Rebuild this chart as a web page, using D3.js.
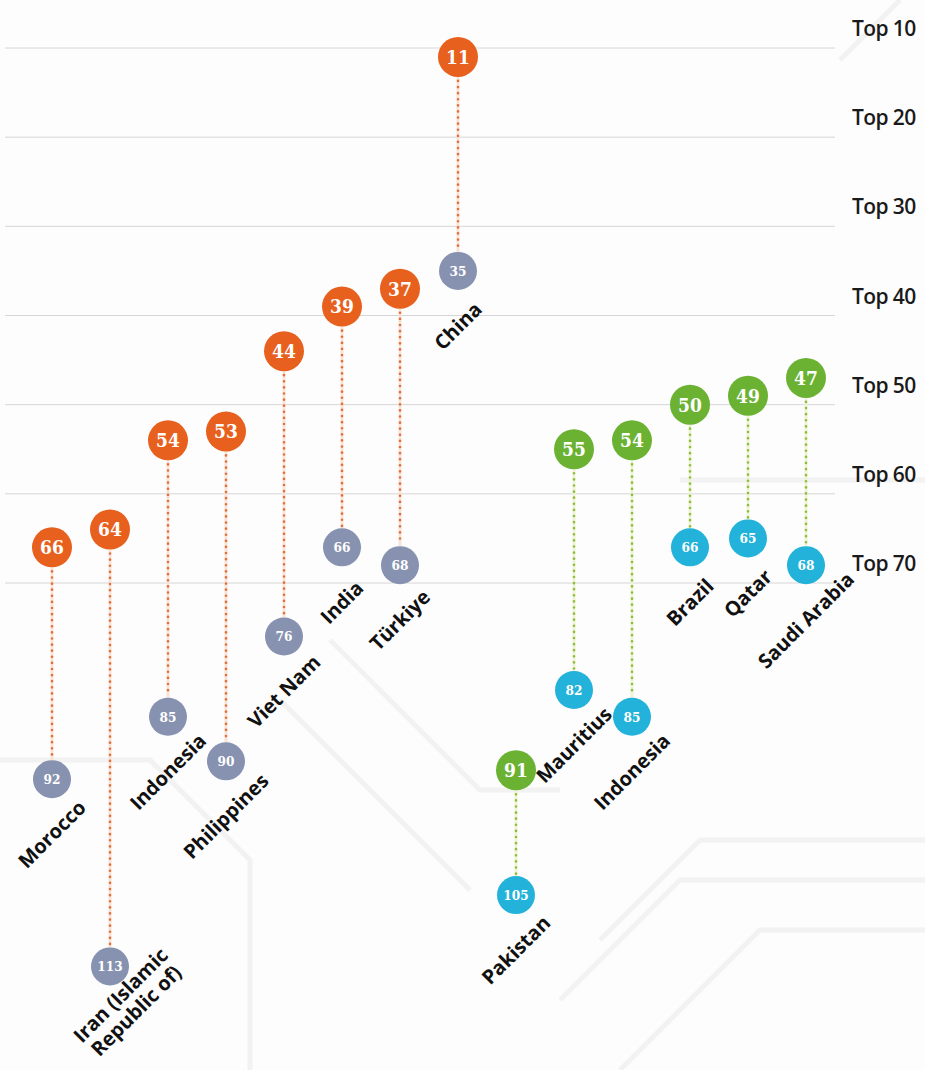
<!DOCTYPE html>
<html>
<head>
<meta charset="utf-8">
<script src="https://cdn.jsdelivr.net/npm/d3@7"></script>
<style>
  html, body { margin: 0; padding: 0; background: #fdfdfd; }
  .num { font-family: "DejaVu Serif", serif; font-weight: bold; font-stretch: condensed; fill: #fff; }
  .country { font-family: "Open Sans", sans-serif; font-weight: 700; fill: #111; }
  .tier { font-family: "Open Sans", sans-serif; font-weight: 600; fill: #1a1a1a; letter-spacing: -0.6px; }
</style>
</head>
<body>
<svg id="chart" width="925" height="1070"></svg>
<script>
// countries, left (orange/grey) and right (green/cyan) groups
const leftCountries = ['Morocco', 'Iran (Islamic|Republic of)', 'Indonesia', 'Philippines', 'Viet Nam', 'India', 'Türkiye', 'China'];
const leftTop = [66, 64, 54, 53, 44, 39, 37, 11];
const leftBottom = [92, 113, 85, 90, 76, 66, 68, 35];

const rightCountries = ['Pakistan', 'Mauritius', 'Indonesia', 'Brazil', 'Qatar', 'Saudi Arabia'];
const rightTop = [91, 55, 54, 50, 49, 47];
const rightBottom = [105, 82, 85, 66, 65, 68];

const tierTicks = [10, 20, 30, 40, 50, 60, 70];
const tierLabels = ['Top 10', 'Top 20', 'Top 30', 'Top 40', 'Top 50', 'Top 60', 'Top 70'];

const colors = {
  left: { top: '#e7601d', bottom: '#8792b0', dots: '#e2703f', pale: '#f8e3d6' },
  right: { top: '#6bb233', bottom: '#22b2da', dots: '#8fbf3a', pale: '#eef3d6' },
};

const svg = d3.select('#chart');
const W = 925;

const rows = [
  ...leftCountries.map((c, i) => ({ key: 'L' + i, name: c, top: leftTop[i], bottom: leftBottom[i], side: 'left' })),
  ...rightCountries.map((c, i) => ({ key: 'R' + i, name: c, top: rightTop[i], bottom: rightBottom[i], side: 'right' })),
];

const x = d3.scalePoint().domain(rows.map(d => d.key)).range([52, 806]);
const y = d3.scaleLinear().domain([10, 70]).range([48, 583]);

/* BACKGROUND TRACES (decoration) */
const bg = svg.append('g').attr('class', 'bg');
bg.append('rect').attr('width', W).attr('height', 1070).attr('fill', '#fdfdfd');
const traces = [
  'M0,760 L150,760 L250,860 L250,1070', 'M330,640 L480,790 L560,790',
  'M280,700 L470,890', 'M600,940 L700,840 L925,840', 'M560,1000 L680,880 L925,880',
  'M620,1070 L760,930 L925,930', 'M840,60 L900,0', 'M680,480 L925,480',
];
bg.selectAll('path').data(traces).enter().append('path')
  .attr('d', d => d).attr('fill', 'none').attr('stroke', '#f2f2f2').attr('stroke-width', 5);

/* GRID */
const grid = svg.append('g').attr('class', 'grid');
grid.selectAll('line').data(tierTicks).enter().append('line')
  .attr('x1', 5).attr('x2', 835)
  .attr('y1', d => y(d)).attr('y2', d => y(d))
  .attr('stroke', '#d6d6d6').attr('stroke-width', 1);
grid.selectAll('text').data(tierTicks).enter().append('text')
  .attr('class', 'tier')
  .attr('x', 852).attr('y', d => y(d) - 12)
  .style('font-size', '21px')
  .text((d, i) => tierLabels[i]);

/* CONNECTORS */
const rTop = 20, rBot = 19;
const conn = svg.append('g').attr('class', 'connectors');
conn.selectAll('line.pale').data(rows).enter().append('line').attr('class', 'pale')
  .attr('x1', d => x(d.key)).attr('x2', d => x(d.key))
  .attr('y1', d => y(d.top) + rTop).attr('y2', d => y(d.bottom) - rBot)
  .attr('stroke', d => colors[d.side].pale).attr('stroke-width', 3);
conn.selectAll('line.dots').data(rows).enter().append('line').attr('class', 'dots')
  .attr('x1', d => x(d.key)).attr('x2', d => x(d.key))
  .attr('y1', d => y(d.top) + rTop + 4).attr('y2', d => y(d.bottom) - rBot - 2)
  .attr('stroke', d => colors[d.side].dots).attr('stroke-width', 2.6)
  .attr('stroke-linecap', 'round').attr('stroke-dasharray', '0.1,6');

/* DOTS */
const drawDots = (field, r, size) => {
  const g = svg.append('g').attr('class', 'dots-' + field);
  const dg = g.selectAll('g').data(rows).enter().append('g')
    .attr('transform', d => `translate(${x(d.key)},${y(d[field])})`);
  dg.append('circle').attr('r', r).attr('fill', d => colors[d.side][field]);
  dg.append('text').attr('class', 'num')
    .attr('text-anchor', 'middle').attr('dy', '0.36em')
    .style('font-size', size + 'px')
    .text(d => d[field]);
};
drawDots('top', rTop, 19);
drawDots('bottom', rBot, 13.5);

/* COUNTRY LABELS: centred below the lower dot, rotated */
const lab = svg.append('g').attr('class', 'labels');
const lg = lab.selectAll('text').data(rows).enter().append('text')
  .attr('class', 'country')
  .attr('text-anchor', 'middle')
  .style('font-size', '20px')
  .attr('transform', d => `translate(${x(d.key) + 5},${y(d.bottom) + 60}) rotate(-45)`);
lg.each(function (d) {
  const parts = d.name.split('|');
  const t = d3.select(this);
  parts.forEach((p, i) => {
    // two-line labels slide up along the baseline so they stay on the page
    t.append('tspan').attr('x', parts.length > 1 ? 26 : 0)
      .attr('y', ((i - (parts.length - 1) / 2) * 1.1) + 'em')
      .text(p);
  });
});
</script>
</body>
</html>
